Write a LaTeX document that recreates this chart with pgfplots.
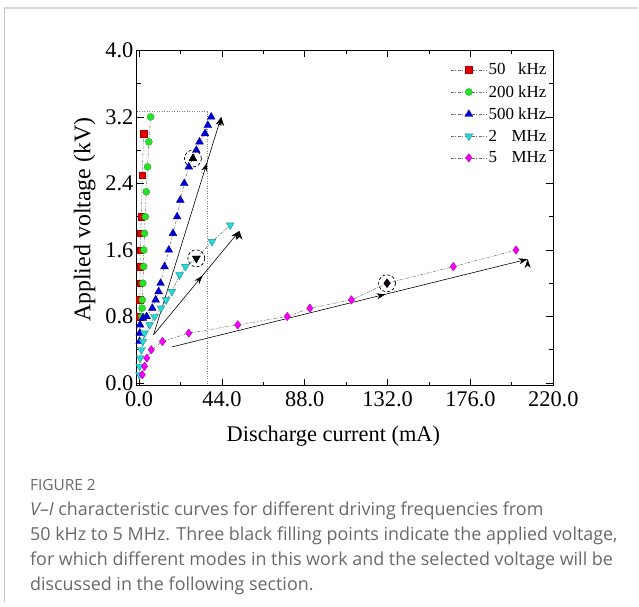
\documentclass[border=0pt]{standalone}
\usepackage{fontspec}
\setmainfont{Liberation Serif}
\newfontfamily\capfont{Open Sans}
\usepackage{pgfplots}
\pgfplotsset{compat=1.18}
\usetikzlibrary{arrows.meta,decorations.markings}
\definecolor{cred}{RGB}{230,0,0}
\definecolor{cgreen}{RGB}{40,225,40}
\definecolor{cblue}{RGB}{0,0,215}
\definecolor{ccyan}{RGB}{40,215,215}
\definecolor{cmag}{RGB}{245,0,245}
\definecolor{capgray}{RGB}{105,105,105}
\definecolor{framegray}{RGB}{215,215,215}
\definecolor{linegray}{RGB}{110,110,110}
\begin{document}
\begin{tikzpicture}
\path (0bp,0bp) rectangle (639bp,-607bp);
\draw[framegray, line width=1.6bp] (4bp,-8bp) -- (639bp,-8bp);
\draw[framegray!80!gray, line width=0.8bp] (4bp,-8bp) -- (4bp,-603bp);
\begin{axis}[
  at={(137bp,-386bp)}, anchor=south west, scale only axis,
  width=417bp, height=335.5bp,
  xmin=-1.2, xmax=220, ymin=-0.03, ymax=4.0,
  xtick={0,44,88,132,176,220}, ytick={0,0.8,1.6,2.4,3.2,4.0},
  minor xtick={22,66,110,154,198}, minor ytick={0.4,1.2,2.0,2.8,3.6},
  tick align=inside, major tick length=7bp, minor tick length=4bp,
  axis line style={line width=0.9bp}, every tick/.style={black, line width=0.8bp},
  /pgf/number format/assume math mode=true,
  xticklabel={\pgfmathprintnumber[fixed,fixed zerofill,precision=1]{\tick}},
  yticklabel={\pgfmathprintnumber[fixed,fixed zerofill,precision=1]{\tick}},
  tick label style={font=\fontsize{22.5}{22.5}\selectfont},
  xticklabel style={yshift=-3bp},
  scaled ticks=false,
  xlabel={Discharge current (mA)}, ylabel={Applied voltage (kV)},
  x label style={at={(axis description cs:0.472,-0.152)}, anchor=center, font=\fontsize{22.5}{22.5}\selectfont},
  y label style={at={(axis description cs:-0.125,0.495)}, anchor=center, font=\fontsize{24}{24}\selectfont},
  legend style={at={(axis description cs:0.753,0.967)}, anchor=north west, draw=none, fill=none,
    font=\fontsize{17}{17}\selectfont, row sep=6bp, inner sep=0pt, nodes={inner sep=1.5bp}},
  legend cell align=left,
  legend image code/.code={\draw[mark repeat=2,mark phase=2,#1] plot coordinates {(0bp,0bp) (18bp,0bp) (36bp,0bp)};},
  every axis plot/.append style={linegray, line width=0.5bp, dash pattern=on 3bp off 1.5bp on 1bp off 1.5bp},
]
% guide lines
\addplot[forget plot, gray, line width=0.7bp, dash pattern=on 1bp off 1.5bp] coordinates {(-1.2,3.265) (36.2,3.265) (36.2,-0.03)};
% arrows
\addplot[forget plot, solid, black, line width=0.6bp, -{Stealth[length=9bp,width=6bp]},
  postaction={decorate}, decoration={markings, mark=at position 0.79 with {\arrow{Stealth[length=9bp,width=6bp]}}}]
  coordinates {(7.7,0.58) (43.6,3.2)};
\addplot[forget plot, solid, black, line width=0.6bp, -{Stealth[length=9bp,width=6bp]},
  postaction={decorate}, decoration={markings, mark=at position 0.57 with {\arrow{Stealth[length=9bp,width=6bp]}}}]
  coordinates {(7.7,0.58) (53.3,1.83)};
\addplot[forget plot, solid, black, line width=0.6bp, -{Stealth[length=9bp,width=6bp]},
  postaction={decorate}, decoration={markings, mark=at position 0.60 with {\arrow{Stealth[length=9bp,width=6bp]}}}]
  coordinates {(17.6,0.435) (206.4,1.49)};
% series
\addplot[mark=square*, mark size=3.2bp, mark options={solid, fill=cred, draw=cred!75!black, line width=0.4bp}]
  coordinates {(0.3,0.8) (0.4,1.0) (0.6,1.2) (0.6,1.4) (0.6,1.6) (0.8,1.8) (1.2,2.0) (1.7,2.5) (2.4,3.0)};
\addlegendentry{50\hphantom{0} kHz}
\addplot[mark=*, mark size=3.5bp, mark options={solid, fill=cgreen, draw=cgreen!75!black, line width=0.4bp}]
  coordinates {(1.4,0.8) (1.6,0.9) (1.7,1.0) (2.0,1.2) (2.4,1.4) (2.5,1.6) (2.9,1.8) (3.3,2.0) (3.8,2.3) (4.5,2.6) (5.2,2.9) (6.1,3.2)};
\addlegendentry{200 kHz}
\addplot[mark=triangle*, mark size=4.5bp, mark options={solid, fill=cblue, draw=cblue!75!black, line width=0.4bp}]
  coordinates {(0.3,0.5) (0.4,0.6) (0.5,0.7) (2.0,0.78) (4.0,0.8) (7.0,0.9) (8.8,1.0) (10.4,1.1) (11.4,1.2) (13.5,1.4) (15.8,1.6) (18.0,1.8) (20.2,2.0) (21.9,2.2) (24.0,2.4) (26.4,2.6) (28.6,2.7) (30.4,2.8) (32.1,2.9) (35.0,3.0) (36.5,3.1) (38.3,3.2)};
\addlegendentry{500 kHz}
\addplot[mark=triangle*, mark size=4.5bp, mark options={solid, rotate=180, fill=ccyan, draw=ccyan!70!black, line width=0.4bp}]
  coordinates {(0.2,0.1) (0.3,0.2) (0.6,0.3) (1.2,0.4) (2.0,0.5) (2.9,0.6) (5.6,0.7) (8.2,0.8) (11.6,0.9) (14.4,1.0) (17.4,1.1) (21.5,1.3) (24.6,1.4) (30.4,1.5) (38.7,1.7) (48.4,1.9)};
\addlegendentry{2\hphantom{00} \hspace{-0.39em}MHz}
\addplot[mark=diamond*, mark size=4.2bp, mark options={solid, fill=cmag, draw=cmag!75!black, line width=0.4bp}]
  coordinates {(1.7,0.1) (2.9,0.2) (4.1,0.3) (6.5,0.4) (12.4,0.5) (26.4,0.6) (52.4,0.7) (78.7,0.8) (90.7,0.9) (112.8,1.0) (131.7,1.2) (166.9,1.4) (200.2,1.6)};
\addlegendentry{5\hphantom{00} \hspace{-0.39em}MHz}
% selected points
\addplot[forget plot, only marks, mark=triangle*, mark size=4.5bp, mark options={solid, black}] coordinates {(28.6,2.7)};
\addplot[forget plot, only marks, mark=triangle*, mark size=4.5bp, mark options={solid, rotate=180, black}] coordinates {(30.4,1.5)};
\addplot[forget plot, only marks, mark=diamond*, mark size=4.2bp, mark options={solid, black}] coordinates {(131.7,1.2)};
\addplot[forget plot, only marks, mark=o, mark size=8.5bp, mark options={solid, black, line width=0.7bp, dash pattern=on 3bp off 2bp}] coordinates {(28.6,2.7) (30.4,1.5) (131.7,1.2)};
\end{axis}
\node[anchor=base west, inner sep=0pt, text=capgray, font=\capfont\fontsize{15.5}{15.5}\selectfont] at (30bp,-491bp) {FIGURE 2};
\begin{scope}[every node/.style={anchor=base west, inner sep=0pt, text=capgray, font=\capfont\fontsize{18}{18}\selectfont}]
\node at (30bp,-516bp) {{\itshape V}–{\itshape I} characteristic curves for different driving frequencies from};
\node at (30bp,-541bp) {50 kHz to 5 MHz. Three black filling points indicate the applied voltage,};
\node at (30bp,-566bp) {for which different modes in this work and the selected voltage will be};
\node at (30bp,-591bp) {discussed in the following section.};
\end{scope}
\end{tikzpicture}
\end{document}
